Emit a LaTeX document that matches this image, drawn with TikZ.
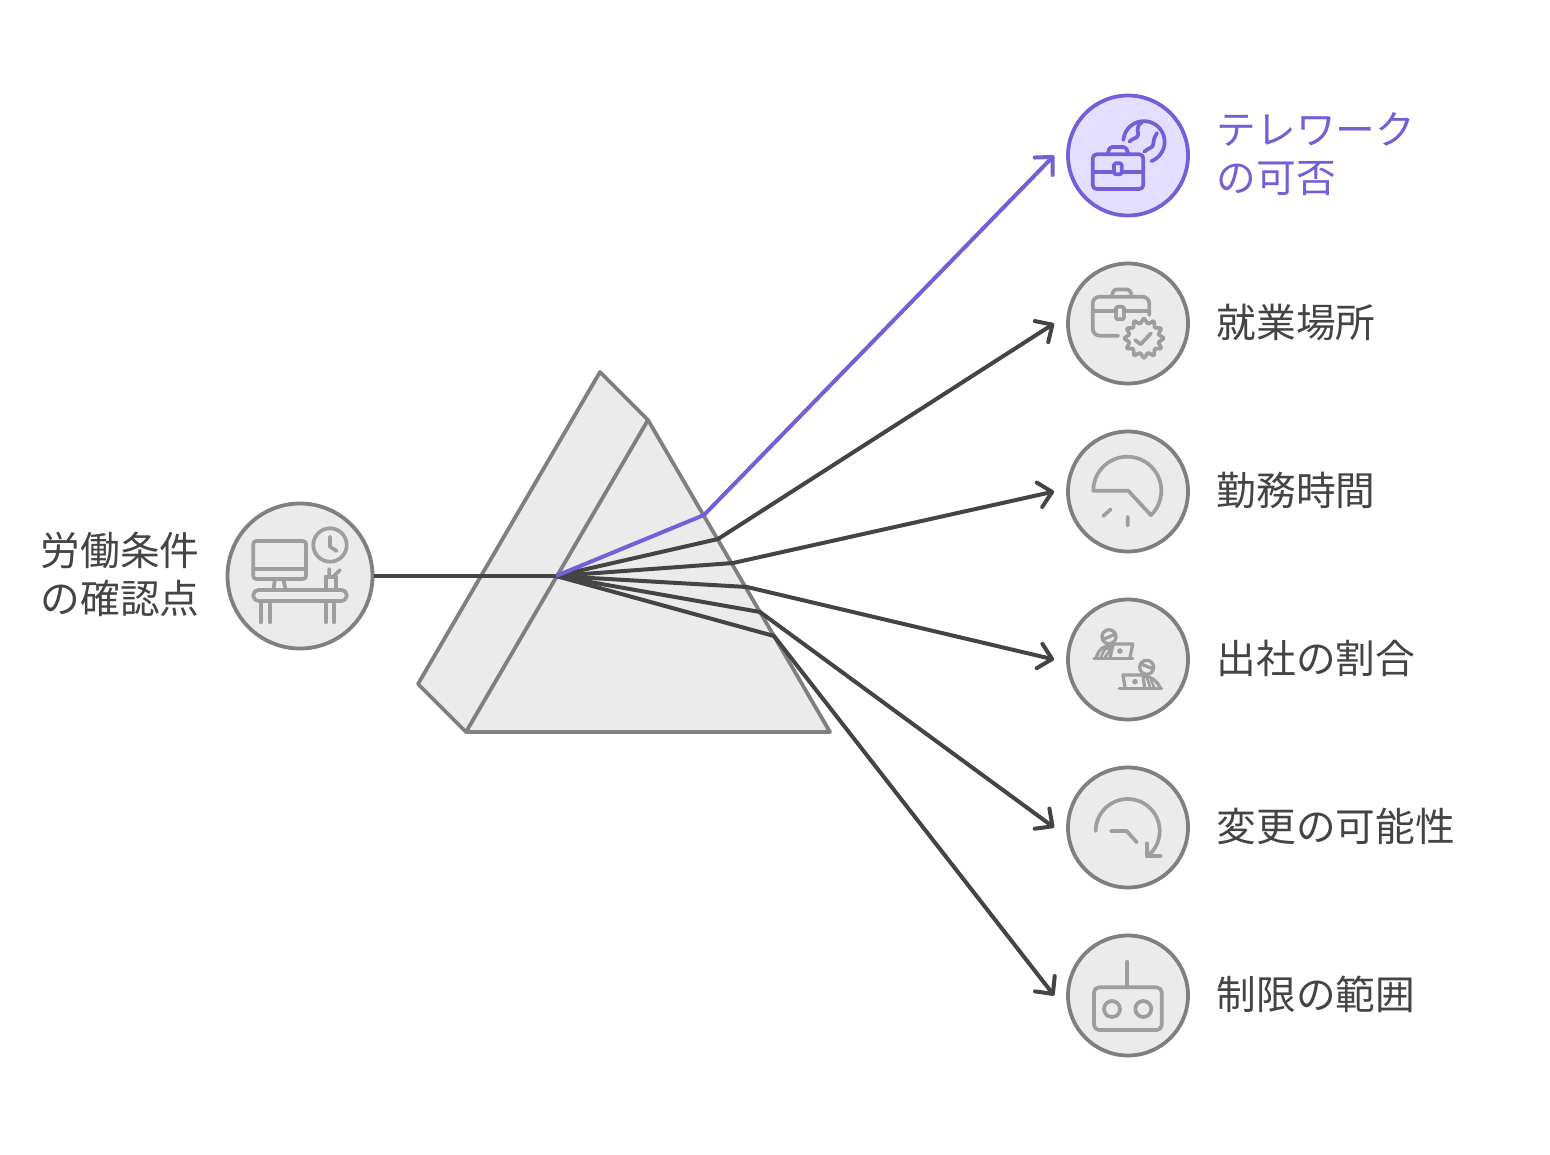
\documentclass[tikz,border=0pt]{standalone}
\usepackage{fontspec}
\setmainfont{Noto Sans CJK JP}
\usetikzlibrary{arrows.meta,calc}
\definecolor{inkd}{HTML}{444444}
\definecolor{edgeg}{HTML}{808080}
\definecolor{fillg}{HTML}{EBEBEB}
\definecolor{icong}{HTML}{9E9E9E}
\definecolor{purp}{HTML}{7460D6}
\definecolor{purpf}{HTML}{E5DFFF}
\tikzset{
  x=1pt,y=-1pt,
  disc/.style={circle,draw=edgeg,fill=fillg,line width=3.8pt,minimum size=120pt,inner sep=0pt},
  discp/.style={disc,draw=purp,fill=purpf},
  icon/.style={draw=icong,line width=3.7pt,line cap=round,line join=round},
  iconp/.style={icon,draw=purp},
  wire/.style={draw=inkd,line width=4pt,line join=round},
  ray/.style={wire,-{Straight Barb[length=13pt,width=25pt,line width=4pt,round]}},
  rayp/.style={ray,draw=purp},
  lab/.style={anchor=west,inner sep=0pt,align=left,text=inkd,font=\fontsize{39.7}{48}\selectfont},
  prismf/.style={draw=edgeg,fill=fillg,line width=3.8pt,line join=round},
}
\begin{document}
\begin{tikzpicture}
\useasboundingbox (0,0) rectangle (1550,1154);
% prism
\coordinate (pa) at (600,372);
\coordinate (pb) at (648,420);
\coordinate (pc) at (830,732);
\coordinate (pd) at (466,732);
\coordinate (pe) at (418,684);
\coordinate (focus) at (556,576);
\path[prismf] (pa)--(pb)--(pc)--(pd)--(pe)--cycle;
\path[prismf] (pb)--(pd);
% nodes
\node[disc,minimum size=145pt] (src) at (300,576) {};
\node[discp] (c1) at (1128,155.5) {};
\node[disc] (c2) at (1128,323.5) {};
\node[disc] (c3) at (1128,491.5) {};
\node[disc] (c4) at (1128,659.5) {};
\node[disc] (c5) at (1128,827.5) {};
\node[disc] (c6) at (1128,995.5) {};
\node[lab] (t0) at (40.5,574.5) {労働条件\\の確認点};
\node[lab,text=purp] (t1) at (1216.5,154.5) {テレワーク\\の可否};
\node[lab] (t2) at (1216.5,322.5) {就業場所};
\node[lab] (t3) at (1216.5,490.5) {勤務時間};
\node[lab] (t4) at (1216.5,658.5) {出社の割合};
\node[lab] (t5) at (1216.5,826.5) {変更の可能性};
\node[lab] (t6) at (1216.5,994.5) {制限の範囲};
% rays
\foreach \i/\bx/\by in {2/718/539,3/733/563,4/747/587,5/760/612,6/774/636}{
  \coordinate (b\i) at (\bx,\by);
  \coordinate (e\i) at ($(c\i.west)+(-12,0)$);
}
\coordinate (b1) at (704,515);
\coordinate (e1) at ($(c1.west)+(-12,0)$);
\path[wire] (src.east)--(focus);
\foreach \i in {6,5,4,3,2}{\path[ray] (focus)--(b\i)--(e\i);}
\path[rayp] (focus)--(b1)--(e1);
% icon 1 briefcase + globe
\draw[iconp,rounded corners=4pt] (1092.7,154.3) rectangle (1143.3,189);
\draw[iconp,rounded corners=3pt] (1108,153)--(1109.5,147)--(1126,147)--(1128,153);
\draw[iconp] (1093,172.3)--(1113.5,172.3) (1122,172.3)--(1143,172.3);
\draw[iconp,rounded corners=1.5pt] (1114,163.3) rectangle (1121.7,174.3);
\draw[iconp] (1123.3,140) arc[start angle=175,end angle=-69,radius=20.7pt];
\draw[iconp] (1129.3,141.7) .. controls (1135,136) and (1140,140) .. (1137.5,130) .. controls (1137,127) and (1139,124) .. (1142,122.5);
\draw[iconp] (1144.3,151.7) .. controls (1149,147) and (1153,149) .. (1153.5,143) .. controls (1153.5,139) and (1155,136) .. (1157,133);
% icon 2 briefcase + badge
\draw[icon,rounded corners=7pt] (1149.3,315)--(1149.3,296.7)--(1092.7,296.7)--(1092.7,335.7)--(1118.3,335.7);
\draw[icon,rounded corners=3pt] (1112,295.7)--(1113.5,289.5)--(1130,289.5)--(1131.5,295.7);
\draw[icon] (1093,311)--(1115,311) (1124.5,311)--(1149,311);
\draw[icon,rounded corners=1.5pt] (1116,306.7) rectangle (1124,319.3);
\draw[icon] plot[smooth cycle,tension=0.3,samples=24,domain=0:23] ({1144+(17.5+2.3*cos(\x*180))*cos(\x*15)},{338.3+(17.5+2.3*cos(\x*180))*sin(\x*15)});
\draw[icon] (1135,340)--(1140.7,344.3)--(1151,333.3);
% icon 3 pie
\draw[icon] (1093.3,490.7) arc[start angle=180,end angle=-46,radius=34pt]--(1128.3,490.7)--cycle;
\draw[icon] (1103.3,516)--(1110.7,509.3) (1127.7,516.7)--(1127.7,525.7);
% icon 4 two people
\draw[icon,line width=3.3pt] (1109,636.7) circle[radius=7pt] (1105,638.5)--(1113.3,635);
\draw[icon,line width=3.3pt] (1094,658.3)--(1132.7,658.3);
\draw[icon,line width=3.3pt] (1110,657.3)--(1113.3,644)--(1132.7,644)--(1130,657.3);
\draw[icon,line width=3.3pt] (1096.5,657) .. controls (1098,650) and (1103,646) .. (1112,645.5);
\draw[icon,line width=2.6pt] (1101,657)--(1105,649)--(1110,648) (1105,657)--(1110,650);
\fill[icong] (1120,651) circle[radius=2.8pt];
\draw[icon,line width=3.3pt] (1146.7,667.3) circle[radius=7pt] (1143.3,665)--(1151.7,668.3);
\draw[icon,line width=3.3pt] (1119.3,688.3)--(1161.7,688.3);
\draw[icon,line width=3.3pt] (1125,687.5)--(1123,675)--(1143,675)--(1144.5,687.5);
\draw[icon,line width=3.3pt] (1143,676.5) .. controls (1152,676) and (1157,681) .. (1160,687.5);
\draw[icon,line width=2.6pt] (1147,678)--(1150,687) (1151,680)--(1154,687);
\fill[icong] (1135,681.7) circle[radius=2.8pt];
% icon 5 curved arrow
\draw[icon] (1095.7,831) arc[start angle=180,end angle=-52,radius=32pt];
\draw[icon] (1146.7,843.3)--(1146.7,856)--(1160.7,856);
\draw[icon] (1111,831)--(1126.7,831)--(1136.7,842.3);
% icon 6 robot box
\draw[icon] (1127.3,961.7)--(1127.3,987);
\draw[icon,rounded corners=5pt] (1094,987.3) rectangle (1161.7,1030);
\draw[icon] (1112,1009) circle[radius=8pt] (1143.3,1009) circle[radius=8pt];
% left desk icon
\draw[icon,rounded corners=3pt] (253.3,541) rectangle (306,579);
\draw[icon] (253.3,569)--(306,569);
\draw[icon] (275,579)--(273.3,590) (283.3,579)--(285.7,590);
\draw[icon,rounded corners=5pt] (253.3,590) rectangle (346.7,601);
\draw[icon] (261,601)--(261,622.3) (270,601)--(270,622.3) (325.7,601)--(325.7,622.3) (334.3,601)--(334.3,622.3);
\draw[icon] (330,545) circle[radius=16.7pt];
\draw[icon] (330,536.7)--(330,546.7)--(336.7,551);
\draw[icon] (325.7,576.7)--(336,576.7)--(336,589) (325.7,576.7)--(325.7,589);
\draw[icon] (329.3,569)--(329.3,576.7) (340,570)--(333.3,576.7);
\end{tikzpicture}
\end{document}
